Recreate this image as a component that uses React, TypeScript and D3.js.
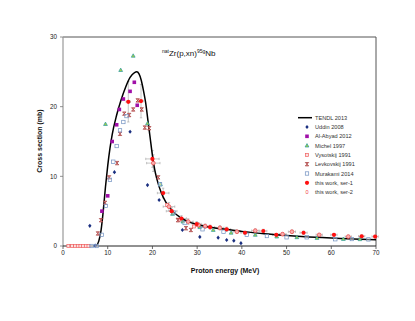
import React from "react";
import * as d3 from "d3";

const xTicks = [0, 10, 20, 30, 40, 50, 60, 70];
const yTicks = [0, 10, 20, 30];

const tendlE = [7, 7.5, 8, 8.5, 9, 9.5, 10, 10.5, 11, 12, 13, 14, 15, 16, 16.5, 17, 17.5, 18, 18.5, 19, 19.5, 20, 20.5, 21, 22, 23, 24, 25, 26, 27, 28, 30, 32, 35, 40, 45, 50, 55, 60, 65, 70];
const tendlY = [0, 0.1, 0.7, 2.2, 5, 8.5, 11.5, 14, 16, 18.8, 21, 22.8, 24.2, 24.9, 25, 24.7, 23.8, 22.3, 20.5, 18, 15.5, 13, 11, 9.6, 7.6, 6.3, 5.4, 4.7, 4.2, 3.8, 3.5, 3.1, 2.8, 2.5, 2.1, 1.75, 1.5, 1.3, 1.15, 1.0, 0.88];

const uddin = [[6.0, 2.9], [7.2, 0.05], [11.5, 10.6], [15.0, 16.4], [18.9, 8.75], [21.5, 6.6], [26.7, 2.3], [30.6, 1.3], [34.7, 1.2], [36.6, 0.86], [38.2, 0.76], [39.8, 0.4]];
const alAbyad = [[8.7, 5.0], [10.0, 7.2], [11.0, 15.0], [12.0, 17.4], [12.6, 19.6], [13.5, 21.1], [15.0, 22.2], [15.95, 23.5], [16.6, 20.2]];
const michel = [[9.5, 17.5], [12.9, 25.25], [15.7, 27.3], [18.9, 17.6], [21.8, 8.85], [24.5, 4.6], [26.8, 3.5], [30.6, 2.7], [33.6, 2.3], [37.6, 1.9], [43, 1.6], [47.8, 1.35], [52.3, 1.25], [56.8, 1.15], [62.7, 1.0], [66.4, 0.97]];
const vysotskij = [[1.2, 0], [2.0, 0], [2.7, 0], [3.3, 0], [3.9, 0], [4.5, 0], [5.1, 0], [5.7, 0], [23.3, 5.9], [26.0, 3.8], [29.3, 2.8]];
const levkovskij = [[7.8, 1.8], [8.5, 3.7], [9.4, 6.2], [10.3, 9.85], [12.1, 11.9], [12.75, 16.1], [13.7, 19.0], [14.8, 18.8], [15.7, 19.6], [16.7, 20.9], [17.6, 19.6], [18.3, 17.0], [19.3, 16.9], [21.3, 9.85], [25.7, 3.7], [27.5, 2.55], [28.6, 2.3]];
const murakami = [[6.4, 0], [7.5, 0], [8.65, 1.6], [9.6, 5.75], [10.5, 9.5], [11.25, 12.1], [12.0, 14.35], [12.75, 16.6], [13.5, 17.8], [14.2, 18.65], [21.7, 8.85], [24.8, 4.8], [27.2, 3.3], [31.2, 2.4], [35.9, 2.05], [41.1, 1.6], [45.6, 1.43], [50, 1.25], [54.5, 1.25], [60.9, 0.97], [64.6, 1.0], [68.3, 0.95]];
const ser1 = [[14.6, 20.7], [17.45, 20.8], [20.0, 12.5], [22.4, 7.6], [24.3, 5.0], [26.5, 3.95], [29.9, 3.15], [32.9, 2.7], [36.6, 2.4], [40.7, 1.9], [44.8, 2.15], [47.7, 1.6], [53.8, 1.9], [60.6, 1.6], [66.8, 1.4], [69.8, 1.35]];
const ser1XErr = [0.5, 0.5, 1.5, 1.3, 1.2, 1.1, 1.0, 1.0, 0.9, 0.9, 0.8, 0.8, 0.8, 0.7, 0.7, 0.7];
const ser1YErr = [2.9, 2.4, 1.2, 0.7, 0.5, 0.4, 0.35, 0.3, 0.3, 0.25, 0.25, 0.2, 0.25, 0.2, 0.2, 0.2];
const ser2 = [[20.2, 11.9], [23.7, 5.65], [28, 3.5], [30.3, 3.0], [31.8, 2.85], [35.1, 2.6], [38.9, 2.05], [43, 2.2], [49.1, 1.7], [51.2, 2.05], [57.3, 1.6], [63.8, 1.35]];
const ser2XErr = [1.5, 1.3, 1.1, 1.0, 1.0, 0.9, 0.9, 0.8, 0.8, 0.8, 0.7, 0.7];
const ser2YErr = [1.2, 0.6, 0.4, 0.35, 0.3, 0.3, 0.25, 0.25, 0.2, 0.25, 0.2, 0.2];

const legendLabels = ["TENDL 2013", "Uddin 2008", "Al-Abyad 2012", "Michel 1997", "Vysotskij 1991", "Levkovskij 1991", "Murakami 2014", "this work, ser-1", "this work, ser-2"];

const W = 415, H = 321;
const L = 63, R = 376, T = 37, B = 246;

const FONT = "'Liberation Sans', Arial, sans-serif";

function Marker({ kind, x, y }: { kind: string; x: number; y: number }) {
  switch (kind) {
    case "uddin":
      return <path d={`M${x},${y - 2.1}L${x + 1.7},${y}L${x},${y + 2.1}L${x - 1.7},${y}Z`} fill="#1a2f80" />;
    case "alAbyad":
      return <rect x={x - 1.8} y={y - 1.8} width={3.6} height={3.6} fill="#a010a8" />;
    case "michel":
      return <path d={`M${x},${y - 2}L${x + 1.9},${y + 1.4}L${x - 1.9},${y + 1.4}Z`} fill="#a8d040" stroke="#2a9aa8" strokeWidth={0.7} />;
    case "vysotskij":
      return <rect x={x - 1.5} y={y - 1.5} width={3} height={3} fill="#fbe0e0" stroke="#f06060" strokeWidth={0.7} />;
    case "levkovskij":
      return <path d={`M${x - 1.7},${y - 1.7}L${x + 1.7},${y - 1.7}L${x - 1.7},${y + 1.7}L${x + 1.7},${y + 1.7}Z`} fill="#e8a0a0" stroke="#a03030" strokeWidth={0.7} />;
    case "murakami":
      return <rect x={x - 1.7} y={y - 1.7} width={3.4} height={3.4} fill="white" fillOpacity={0.4} stroke="#7090c0" strokeWidth={0.7} />;
    case "ser1":
      return <circle cx={x} cy={y} r={2.1} fill="#ff1010" />;
    case "ser2":
      return <circle cx={x} cy={y} r={1.9} fill="#f8b0b0" stroke="#f04040" strokeWidth={0.7} />;
    default:
      return null;
  }
}

export default function App() {
  const x = d3.scaleLinear().domain([0, 70]).range([L, R]);
  const y = d3.scaleLinear().domain([0, 30]).range([B, T]);
  const line = d3.line<number>().x((_, i) => x(tendlE[i])).y((d) => y(d)).curve(d3.curveMonotoneX);

  const errBars = (pts: number[][], xe: number[], ye: number[], key: string) =>
    pts.map((p, i) => {
      const cx = x(p[0]), cy = y(p[1]);
      const x0 = x(p[0] - xe[i]), x1 = x(p[0] + xe[i]);
      const y0 = y(p[1] - ye[i]), y1 = y(p[1] + ye[i]);
      return (
        <g key={key + i} stroke="#a0a0a0" strokeWidth={0.6}>
          <line x1={x0} x2={x1} y1={cy} y2={cy} />
          <line x1={x0} x2={x0} y1={cy - 1.2} y2={cy + 1.2} />
          <line x1={x1} x2={x1} y1={cy - 1.2} y2={cy + 1.2} />
          <line x1={cx} x2={cx} y1={y0} y2={y1} />
          <line x1={cx - 1.2} x2={cx + 1.2} y1={y0} y2={y0} />
          <line x1={cx - 1.2} x2={cx + 1.2} y1={y1} y2={y1} />
        </g>
      );
    });

  const series: [string, number[][]][] = [
    ["uddin", uddin],
    ["alAbyad", alAbyad],
    ["michel", michel],
    ["vysotskij", vysotskij],
    ["levkovskij", levkovskij],
    ["murakami", murakami],
  ];

  const legendKinds = ["tendl", "uddin", "alAbyad", "michel", "vysotskij", "levkovskij", "murakami", "ser1", "ser2"];
  const legY0 = 117.7, legDy = 9.3;

  return (
    <svg width={W} height={H} style={{ position: "absolute", left: 0, top: 0, background: "white" }} fontFamily={FONT}>
      <line x1={L} x2={R} y1={T} y2={T} stroke="#555" strokeWidth={1} />
      <line x1={R} x2={R} y1={T} y2={B} stroke="#555" strokeWidth={1} />
      <line x1={L} x2={L} y1={T} y2={B} stroke="#999" strokeWidth={1.2} />
      <line x1={L} x2={R} y1={B} y2={B} stroke="#222" strokeWidth={1} />

      {yTicks.map((t) => (
        <g key={"yt" + t}>
          <line x1={L - 3} x2={L} y1={y(t)} y2={y(t)} stroke="#777" strokeWidth={0.8} />
          <text x={L - 6} y={y(t) + 2.2} fontSize={6.3} textAnchor="end" fill="#222">{t}</text>
        </g>
      ))}
      {xTicks.map((t) => (
        <g key={"xt" + t}>
          <line x1={x(t)} x2={x(t)} y1={B} y2={B + 3} stroke="#444" strokeWidth={0.8} />
          <text x={x(t)} y={B + 9} fontSize={6.3} textAnchor="middle" fill="#222">{t}</text>
        </g>
      ))}

      <text x={225} y={273} fontSize={7} fontWeight="bold" textAnchor="middle" fill="#111">Proton  energy (MeV)</text>
      <text transform={`translate(42,141) rotate(-90)`} fontSize={7} fontWeight="bold" textAnchor="middle" fill="#111">Cross section (mb)</text>

      <text x={162} y={56} fontSize={8} fill="#111">
        <tspan fontSize={5} dy={-3.5}>nat</tspan>
        <tspan dy={3.5}>Zr(p,xn)</tspan>
        <tspan fontSize={5} dy={-3.5}>95g</tspan>
        <tspan dy={3.5}>Nb</tspan>
      </text>

      {errBars(ser1, ser1XErr, ser1YErr, "e1")}
      {errBars(ser2, ser2XErr, ser2YErr, "e2")}

      <path d={line(tendlY) || ""} fill="none" stroke="#000" strokeWidth={1.5} />

      {series.map(([k, pts]) => pts.map((p, i) => <Marker key={k + i} kind={k} x={x(p[0])} y={y(p[1])} />))}

      {ser2.map((p, i) => <Marker key={"s2" + i} kind="ser2" x={x(p[0])} y={y(p[1])} />)}
      {ser1.map((p, i) => <Marker key={"s1" + i} kind="ser1" x={x(p[0])} y={y(p[1])} />)}

      {legendLabels.map((lab, i) => {
        const ly = legY0 + i * legDy;
        const k = legendKinds[i];
        return (
          <g key={"lg" + i}>
            {k === "tendl" ? (
              <line x1={298} x2={312} y1={ly} y2={ly} stroke="#000" strokeWidth={1.5} />
            ) : k === "ser2" ? (
              <text x={307} y={ly + 2} fontSize={5.5} textAnchor="middle" fill="#f04040">0</text>
            ) : (
              <Marker kind={k} x={307} y={ly} />
            )}
            <text x={315} y={ly + 2} fontSize={5.6} fill="#333">{lab}</text>
          </g>
        );
      })}
    </svg>
  );
}
